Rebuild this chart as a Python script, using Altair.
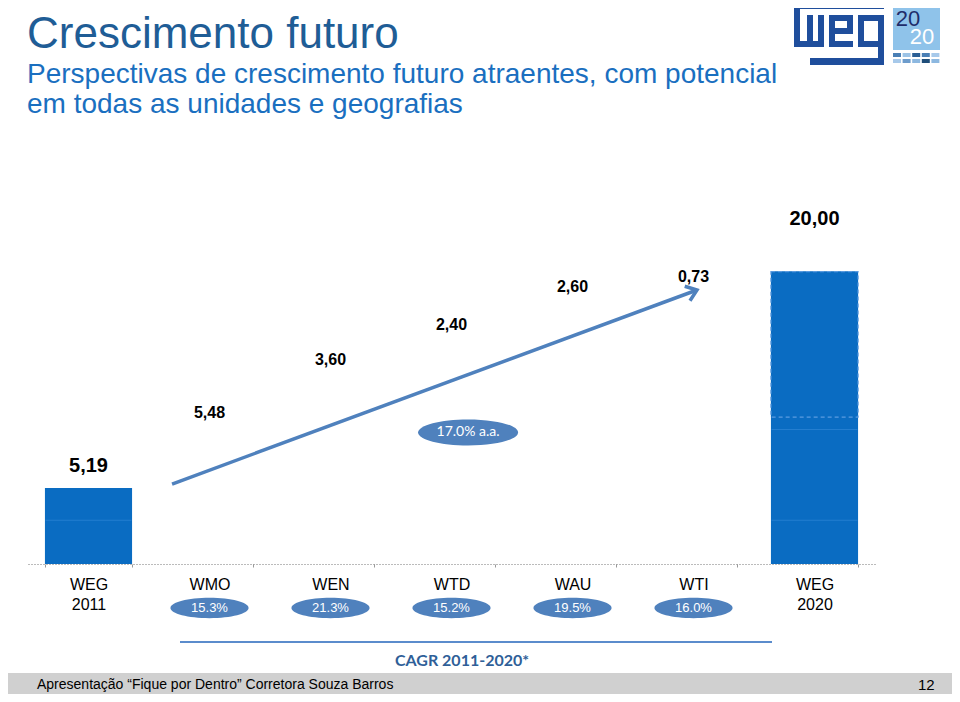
import altair as alt
import pandas as pd

# ---------------- data ----------------
categories = ["WEG 2011", "WMO", "WEN", "WTD", "WAU", "WTI", "WEG 2020"]
total_cats = ["WEG 2011", "WEG 2020"]
total_values = [5.19, 20.00]
step_units = ["WMO", "WEN", "WTD", "WAU", "WTI"]
step_values = [5.48, 3.60, 2.40, 2.60, 0.73]
unit_cagr = ["15.3%", "21.3%", "15.2%", "19.5%", "16.0%"]
total_cagr_text = "17.0% a.a."
total_cagr_cat = "WTD"
total_cagr_level = 9.0
arrow_from = ("WMO", 5.47)
arrow_to = ("WTI", 18.74)
seg_cats = ["WEG 2011", "WEG 2020", "WEG 2020"]
seg_levels = [3.0, 3.0, 9.2]
dashed_part = ("WEG 2020", 10.05, 20.00)


def br(v):
    return f"{v:.2f}".replace(".", ",")


totals_df = pd.DataFrame({"cat": total_cats, "y0": [0.0, 0.0], "y1": total_values,
                          "label": [br(v) for v in total_values]})
steps_df = pd.DataFrame({"cat": step_units, "value": step_values})
steps_df["cum"] = total_values[0] + steps_df["value"].cumsum()
steps_df["label"] = [br(v) for v in step_values]
cagr_df = pd.DataFrame({"cat": step_units, "txt": unit_cagr})
seg_df = pd.DataFrame({"cat": seg_cats, "lvl": seg_levels})
dash_df = pd.DataFrame({"cat": [dashed_part[0]], "y0": [dashed_part[1]], "y1": [dashed_part[2]]})
arrow_df = pd.DataFrame({"x0": [arrow_from[0]], "x1": [arrow_to[0]],
                         "y0": [arrow_from[1]], "y1": [arrow_to[1]]})
pill_df = pd.DataFrame({"cat": [total_cagr_cat], "lvl": [total_cagr_level], "txt": [total_cagr_text]})

# ---------------- styles ----------------
FONT = "Liberation Sans, Arial, Helvetica, sans-serif"
CAL = "Lato, Open Sans, sans-serif"
BAR = "#0a6cc2"
ACC = "#4f81bd"
LOGO = "#1f4e9c"
ELLIPSE = "M-1,0A1,0.26,0,1,1,1,0A1,0.26,0,1,1,-1,0Z"
CHEVRON = "M-1,-0.75L0,0L-1,0.75"
OX, OY = 28, 140  # plot origin on the page (for decorations)

xscale = alt.Scale(domain=categories, paddingInner=0.28, paddingOuter=0.14)
yscale = alt.Scale(domain=[0, 29], nice=False, zero=True)
xaxis = alt.Axis(title=None, labelExpr="split(datum.label, ' ')", labelFont=FONT,
                 labelFontSize=16, labelColor="#000", labelPadding=9, labelLineHeight=20,
                 labelAngle=0, domainDash=[1, 2], domainColor="#777", domainWidth=1,
                 tickBand="extent", tickSize=3, tickColor="#999")


def X(field="cat", **kw):
    return alt.X(f"{field}:N", scale=xscale, axis=xaxis, **kw)


def Y(field):
    return alt.Y(f"{field}:Q", scale=yscale, axis=None)


one = pd.DataFrame({"k": [0]})


def box(x0, y0, x1, y1, color):
    return alt.Chart(one).mark_rect(fill=color, strokeWidth=0).encode(
        x=alt.value(x0 - OX), x2=alt.value(x1 - OX), y=alt.value(y0 - OY), y2=alt.value(y1 - OY))


def label(text, x, y, **kw):
    return alt.Chart(one).mark_text(text=text, **kw).encode(x=alt.value(x - OX), y=alt.value(y - OY))


bars = alt.Chart(totals_df).mark_bar(color=BAR).encode(x=X(), y=Y("y0"), y2="y1")
dash = alt.Chart(dash_df).mark_bar(color=BAR, stroke="#5b9be0", strokeWidth=1.2,
                                   strokeDash=[4, 3]).encode(x=X(), y=Y("y0"), y2="y1")
segs = alt.Chart(seg_df).mark_tick(color="#2f86d6", thickness=1, size=86).encode(x=X(), y=Y("lvl"))

lab_2011 = alt.Chart(totals_df).transform_filter("datum.cat == 'WEG 2011'").mark_text(
    font=FONT, fontSize=20, fontWeight="bold", color="#000", baseline="middle", dy=-22
).encode(x=X(), y=Y("y1"), text="label:N")
lab_2020 = alt.Chart(totals_df).transform_filter("datum.cat == 'WEG 2020'").mark_text(
    font=FONT, fontSize=20, fontWeight="bold", color="#000", baseline="middle", dy=-53
).encode(x=X(), y=Y("y1"), text="label:N")
lab_steps = alt.Chart(steps_df).mark_text(
    font=FONT, fontSize=16, fontWeight="bold", color="#000", baseline="middle", dy=5
).encode(x=X(), y=Y("cum"), text="label:N")

arrow = alt.Chart(arrow_df).mark_rule(color=ACC, strokeWidth=3.5).encode(
    x=X("x0", bandPosition=0.07), x2=alt.X2(field="x1", bandPosition=0.54),
    y=Y("y0"), y2="y1")
head = alt.Chart(arrow_df).mark_point(shape=CHEVRON, filled=False, color=ACC, strokeWidth=3.5,
                                      size=420, angle=340, opacity=1, strokeJoin="miter").encode(
    x=X("x1", bandPosition=0.54), y=Y("y1"))

pill = alt.Chart(pill_df).mark_point(shape=ELLIPSE, filled=True, color=ACC, size=10000,
                                     opacity=1).encode(x=X(bandPosition=0.69), y=Y("lvl"))
pill_txt = alt.Chart(pill_df).mark_text(font=CAL, fontSize=14, color="white",
                                        baseline="middle").encode(
    x=X(bandPosition=0.69), y=Y("lvl"), text="txt:N")

cagr_pills = alt.Chart(cagr_df).mark_point(shape=ELLIPSE, filled=True, color=ACC, size=6100,
                                           opacity=1).encode(x=X(), y=alt.value(468))
cagr_txt = alt.Chart(cagr_df).mark_text(font=FONT, fontSize=13, color="white",
                                        baseline="middle").encode(x=X(), y=alt.value(468), text="txt:N")

# ---------------- header ----------------
title = label("Crescimento futuro", 27, 48, font=FONT, fontSize=44, color="#1f5d96",
              align="left", baseline="alphabetic")
subtitle = label(["Perspectivas de crescimento futuro atraentes, com potencial",
                  "em todas as unidades e geografias"], 27, 83,
                 font=FONT, fontSize=28, color="#1a6fc0", align="left", baseline="alphabetic",
                 lineHeight=30)

logo_blue = [
    (794, 3, 884, 9), (794, 3, 800, 47), (794, 41, 824, 47), (807, 15, 813, 47),
    (818, 15, 824, 47), (829, 15, 853, 47), (858, 15, 884, 47), (878, 15, 884, 65),
    (810, 58, 884, 65),
]
logo_white = [(835, 21, 847, 28), (835, 34, 853, 41), (864, 21, 878, 41)]
logo = [box(*r, LOGO) for r in logo_blue] + [box(*r, "white") for r in logo_white]

sq_row1 = ["#4a7fb5", "#9cc3e6", "#2b5f95", "#4a7fb5", "#a7c9ea"]
sq_row2 = ["#a7c9ea", "#6d9ccc", "#8db8e0", "#1f4e79", "#8db8e0"]
squares = [box(893 + i * 9.6, 53, 901 + i * 9.6, 57, c) for i, c in enumerate(sq_row1)] + \
          [box(893 + i * 9.6, 59, 901 + i * 9.6, 63, c) for i, c in enumerate(sq_row2)]
box20 = box(893, 3, 940, 50, "#8fc3ea")
t20a = label("20", 908, 19, font=FONT, fontSize=22, color="#1f2d6b", baseline="middle")
t20b = label("20", 922, 37, font=FONT, fontSize=22, color="white", baseline="middle")

# ---------------- bottom ----------------
cagr_line = alt.Chart(one).mark_rule(color="#5b8ccc", strokeWidth=2).encode(
    x=alt.value(180 - OX), x2=alt.value(772 - OX), y=alt.value(642 - OY))
cagr_title = label("CAGR 2011-2020*", 462, 661, font=CAL, fontSize=16, fontWeight="bold",
                   color="#2f5f98", baseline="middle")

footer = box(0, 673, 960, 702, "#d0d0d0")
footer_txt = label("Apresentação “Fique por Dentro” Corretora Souza Barros", 37, 685,
                   font=FONT, fontSize=14, color="#000", align="left", baseline="middle")
page_txt = label("12", 918, 685, font=FONT, fontSize=15, color="#000", align="left", baseline="middle")

chart = alt.layer(
    bars, dash, segs, lab_2011, lab_2020, lab_steps, arrow, head, pill, pill_txt,
    cagr_pills, cagr_txt, title, subtitle, *logo, *squares, box20, t20a, t20b,
    cagr_line, cagr_title, footer, footer_txt, page_txt
).properties(
    width=847, height=424,
    autosize=alt.AutoSizeParams(type="none"),
    padding={"left": 20, "top": 132, "right": 77, "bottom": 130},
    background="white",
).configure_view(stroke=None)

chart.save("out.html", embed_options={"renderer": "svg", "actions": False})
